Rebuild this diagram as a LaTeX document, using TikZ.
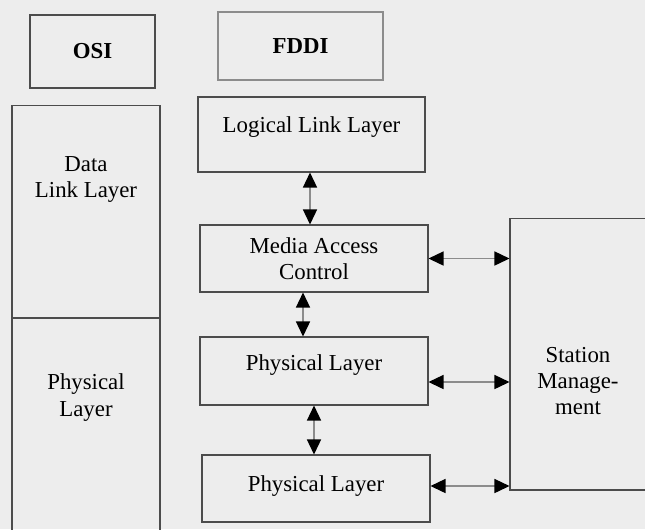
\documentclass[tikz,border=0pt]{standalone}
\usepackage{fontspec}
\setmainfont{Liberation Serif}
\usetikzlibrary{arrows.meta}

\tikzset{
  layer/.style={draw=black!70, line width=0.6pt, align=center, inner sep=0pt},
  tip/.style={Triangle[length=0.3cm,width=0.28cm,color=black]},
  both/.style={{Triangle[length=0.3cm,width=0.28cm,color=black]}-{Triangle[length=0.3cm,width=0.28cm,color=black]}, draw=black!45, line width=0.8pt},
}

\begin{document}
\begin{tikzpicture}[x=0.02cm,y=-0.02cm, font=\fontsize{13}{15}\selectfont]
\fill[black!7] (0,0) rectangle (645,529);
\clip (0,0) rectangle (645,529);

% OSI column
\node[layer, minimum width=2.5cm, minimum height=1.46cm, font=\fontsize{13}{15}\selectfont\bfseries] (osi) at (92.5,51.5) {OSI};
\node[layer, minimum width=2.96cm, minimum height=4.26cm] (osidll) at (86,211.5) {};
\node[layer, minimum width=2.96cm, minimum height=4.54cm] (osiphy) at (86,431.5) {};
\node[align=center] (dlltext) at ([yshift=-1.5cm]osidll.north) {Data\\Link Layer};
\node[align=center] (phytext) at ([yshift=-1.6cm]osiphy.north) {Physical\\Layer};

% FDDI column
\node[layer, draw=black!45, minimum width=3.3cm, minimum height=1.36cm, font=\fontsize{13}{15}\selectfont\bfseries] (fddi) at (300.5,46) {FDDI};
\node[layer, minimum width=4.54cm, minimum height=1.5cm] (llc) at (311.5,134.5) {\raisebox{0.4cm}{Logical Link Layer}};
\node[layer, minimum width=4.56cm, minimum height=1.34cm] (mac) at (314,258.5) {Media Access\\Control};
\node[layer, minimum width=4.56cm, minimum height=1.36cm] (phyA) at (314,371) {\raisebox{0.35cm}{Physical Layer}};
\node[layer, minimum width=4.56cm, minimum height=1.34cm] (phyB) at (316,488.5) {\raisebox{0.2cm}{Physical Layer}};

% station management
\node[layer, minimum width=3.0cm, minimum height=5.44cm] (sm) at (585,354) {};
\node[align=center] (smtext) at (578,381) {Station\\Manage-\\ment};

% vertical arrows
\coordinate (c1) at ([xshift=-0.03cm]llc.south);
\draw[both] (c1) -- (c1 |- mac.north);
\coordinate (c2) at ([xshift=-0.22cm]mac.south);
\draw[both] (c2) -- (c2 |- phyA.north);
\draw[both] (phyA.south) -- (phyA.south |- phyB.north);

% horizontal arrows
\draw[both] (mac.east) -- (mac.east -| sm.west);
\coordinate (c3) at ([yshift=-0.22cm]phyA.east);
\draw[both] (c3) -- (c3 -| sm.west);
\coordinate (c4) at ([yshift=0.05cm]phyB.east);
\draw[both] (c4) -- (c4 -| sm.west);
\end{tikzpicture}
\end{document}
